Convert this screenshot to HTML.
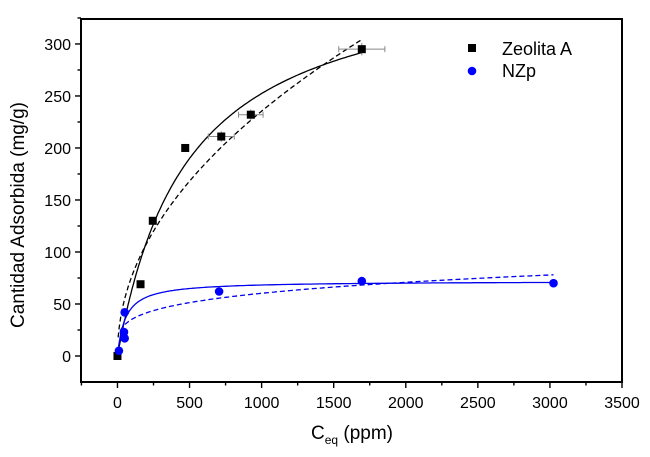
<!DOCTYPE html>
<html><head><meta charset="utf-8"><style>
body{margin:0;background:#fff;}
svg{display:block;font-family:"Liberation Sans",sans-serif;}
</style></head><body>
<svg id="chart" width="650" height="457"></svg>
<script>
const zeoC=[0,160,245,470,720,925,1695];
const zeoQ=[0,69,130,200,211,232,295];
const zeoErrC=[0,0,0,0,90,85,160];
const zeoErrQ=[0,0,0,0,5,5,6];
const nzpC=[10,45,50,50,705,1695,3025];
const nzpQ=[5,23,17,42,62,72,70];
const zeoLangmuir=[376,490];
const zeoFreundlich=[8.2,0.486];
const nzpLangmuir=[72,55];
const nzpFreundlich=[12.06,0.233];
const xTicks=[0,500,1000,1500,2000,2500,3000,3500];
const yTicks=[0,50,100,150,200,250,300];

const svg=document.getElementById('chart');
const NS='http://www.w3.org/2000/svg';
const L=81,R=622,T=19,B=382;
const xMin=-253,xMax=3500,yMin=-25,yMax=324;
const X=v=>L+(v-xMin)/(xMax-xMin)*(R-L);
const Y=v=>B-(v-yMin)/(yMax-yMin)*(B-T);
function el(tag,attrs,parent){const e=document.createElementNS(NS,tag);for(const k in attrs)e.setAttribute(k,attrs[k]);(parent||svg).appendChild(e);return e;}

const frame=el('rect',{x:L,y:T,width:R-L,height:B-T,fill:'none',stroke:'#000','stroke-width':2});



xTicks.forEach(t=>{
  const l=el('line',{x1:X(t),x2:X(t),y1:B,y2:B+6,stroke:'#000','stroke-width':1.4});
  
  
  if(t<3500){const m=el('line',{x1:X(t+250),x2:X(t+250),y1:B,y2:B+3.5,stroke:'#000','stroke-width':1.4});
  
  }
  const tx=el('text',{x:X(t),y:B+26,'font-size':16,'text-anchor':'middle',fill:'#000'});tx.textContent=t;
  
  
});
const m0=el('line',{x1:X(-250),x2:X(-250),y1:B,y2:B+3.5,stroke:'#000','stroke-width':1.4});


yTicks.forEach(t=>{
  const l=el('line',{x1:L-6,x2:L,y1:Y(t),y2:Y(t),stroke:'#000','stroke-width':1.4});
  
  
  const m=el('line',{x1:L-3.5,x2:L,y1:Y(t+25),y2:Y(t+25),stroke:'#000','stroke-width':1.4});
  
  
  const tx=el('text',{x:L-10,y:Y(t)+6,'font-size':16,'text-anchor':'end',fill:'#000'});tx.textContent=t;
  
  
});

function curve(f,c0,c1,color,dash,name){
  let d='';for(let i=0;i<=200;i++){const c=c0+(c1-c0)*Math.pow(i/200,2);d+=(i?'L':'M')+X(c).toFixed(1)+','+Y(f(c)).toFixed(1);}
  const p=el('path',{d,fill:'none',stroke:color,'stroke-width':1.3,'stroke-dasharray':dash||'none'});
  
  
}
curve(c=>zeoLangmuir[0]*c/(zeoLangmuir[1]+c),0,1695,'#000',null,'zeolita-langmuir-fit');
curve(c=>zeoFreundlich[0]*Math.pow(c,zeoFreundlich[1]),5,1695,'#000','5,3','zeolita-freundlich-fit');
curve(c=>nzpLangmuir[0]*c/(nzpLangmuir[1]+c),5,3025,'#0000ee',null,'nzp-langmuir-fit');
curve(c=>nzpFreundlich[0]*Math.pow(c,nzpFreundlich[1]),20,3025,'#0000ee','5,3','nzp-freundlich-fit');

zeoC.forEach((c,i)=>{
  if(zeoErrC[i]){
    const g='#888';
    const e1=el('line',{x1:X(c-zeoErrC[i]),x2:X(c+zeoErrC[i]),y1:Y(zeoQ[i]),y2:Y(zeoQ[i]),stroke:g,'stroke-width':1});
    
    
    [c-zeoErrC[i],c+zeoErrC[i]].forEach(v=>el('line',{x1:X(v),x2:X(v),y1:Y(zeoQ[i])-3,y2:Y(zeoQ[i])+3,stroke:g}));
    const e2=el('line',{x1:X(c),x2:X(c),y1:Y(zeoQ[i]-zeoErrQ[i]),y2:Y(zeoQ[i]+zeoErrQ[i]),stroke:g,'stroke-width':1});
    
    
  }
  const r=el('rect',{x:X(c)-4,y:Y(zeoQ[i])-4,width:8,height:8,fill:'#000'});
  
  
});
nzpC.forEach((c,i)=>{
  const p=el('circle',{cx:X(c),cy:Y(nzpQ[i]),r:4.3,fill:'#0000ff'});
  
  
});

const lg=el('rect',{x:468,y:44,width:8,height:8,fill:'#000'});


const lt=el('text',{x:502,y:55,'font-size':18,fill:'#000'});lt.textContent='Zeolita A';


const lc=el('circle',{cx:472,cy:71,r:4.3,fill:'#0000ff'});


const lt2=el('text',{x:502,y:77,'font-size':18,fill:'#000'});lt2.textContent='NZp';



const xt=el('text',{x:352,y:439,'font-size':19,'text-anchor':'middle',fill:'#000'});
xt.innerHTML='C<tspan font-size="12" dy="5">eq</tspan><tspan dy="-5"> (ppm)</tspan>';


const yt=el('text',{x:0,y:0,'font-size':19,'text-anchor':'middle',fill:'#000',transform:'translate(24,215) rotate(-90)'});
yt.textContent='Cantidad Adsorbida (mg/g)';


</script>
</body></html>
